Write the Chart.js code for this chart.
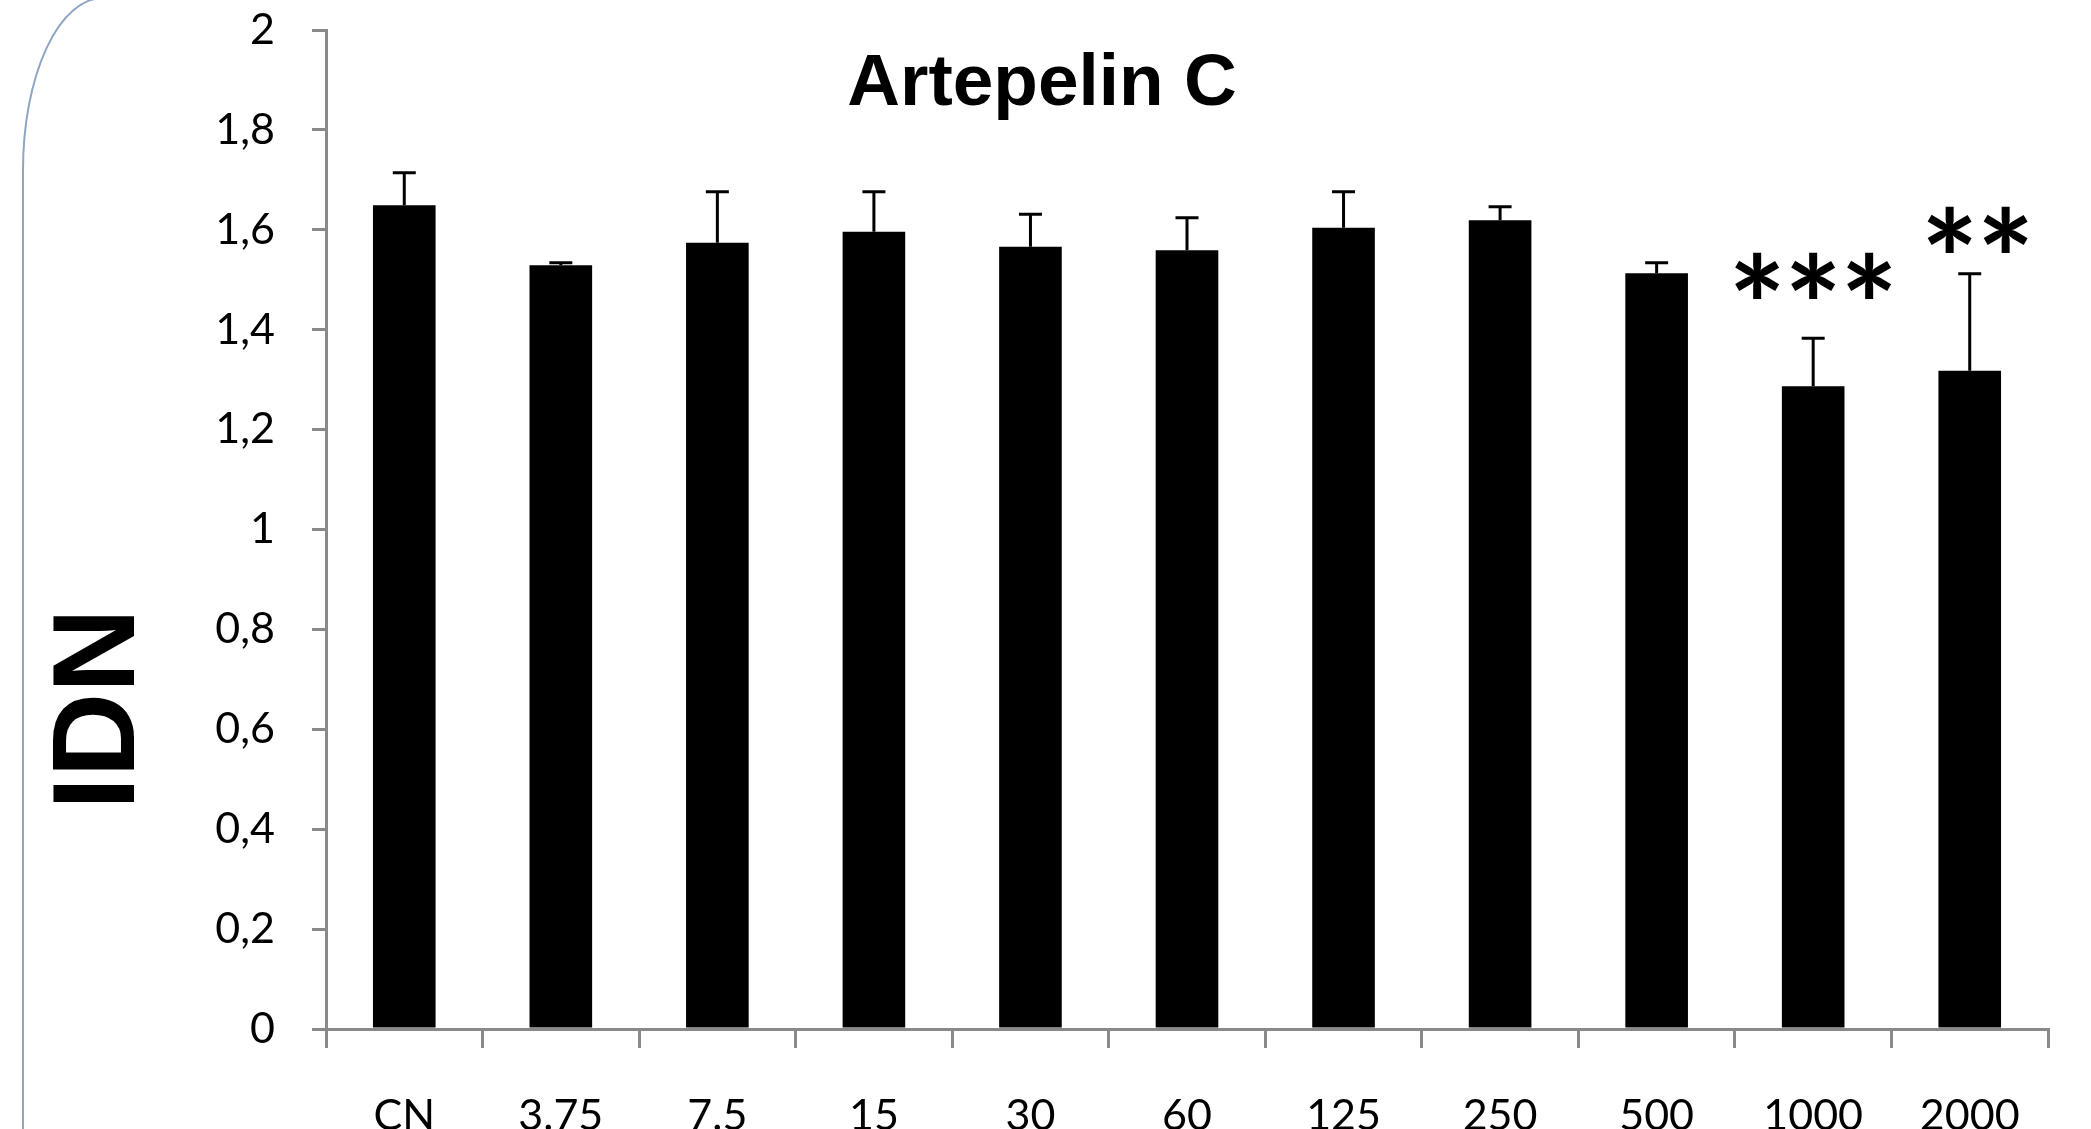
<!DOCTYPE html>
<html>
<head>
<meta charset="utf-8">
<script src="https://cdn.jsdelivr.net/npm/chart.js@4.4.0/dist/chart.umd.min.js"></script>
<style>
  html, body { margin: 0; padding: 0; background: #fff; overflow: hidden; }
  canvas { display: block; }
</style>
</head>
<body>
<canvas id="idnChart" width="2091" height="1129"></canvas>
<script>
// ── data ──
const categories   = ['CN', '3.75', '7.5', '15', '30', '60', '125', '250', '500', '1000', '2000'];
const idnMeans     = [1.649, 1.529, 1.574, 1.596, 1.566, 1.559, 1.604, 1.619, 1.513, 1.287, 1.318];
const idnErrors    = [0.065, 0.005, 0.102, 0.080, 0.065, 0.065, 0.072, 0.027, 0.021, 0.096, 0.194];
const significance = ['', '', '', '', '', '', '', '', '', '***', '**'];
const yTickLabels  = ['0', '0,2', '0,4', '0,6', '0,8', '1', '1,2', '1,4', '1,6', '1,8', '2'];

const AXIS_GREY = '#898989';
const TICK_FONT = { family: 'Lato, sans-serif', size: 43 };

// rounded frame edge at the left of the slide
const framePlugin = {
  id: 'frame',
  beforeDraw(chart) {
    const ctx = chart.ctx;
    ctx.save();
    ctx.strokeStyle = '#8ea5c4';
    ctx.lineWidth = 2;
    ctx.beginPath();
    ctx.moveTo(23, chart.height + 5);
    ctx.lineTo(23, 170);
    ctx.ellipse(103, 170, 80, 172, 0, Math.PI, 1.5 * Math.PI);
    ctx.stroke();
    ctx.restore();
  }
};

// error bars (upper only) + significance stars + title + y title
const extrasPlugin = {
  id: 'extras',
  afterDatasetsDraw(chart) {
    const ctx = chart.ctx;
    const y = chart.scales.y;
    const meta = chart.getDatasetMeta(0);
    ctx.save();
    ctx.strokeStyle = '#000';
    ctx.lineWidth = 3;
    meta.data.forEach((bar, i) => {
      const top = y.getPixelForValue(idnMeans[i] + idnErrors[i]);
      ctx.beginPath();
      ctx.moveTo(bar.x, bar.y);
      ctx.lineTo(bar.x, top);
      ctx.moveTo(bar.x - 11.5, top);
      ctx.lineTo(bar.x + 11.5, top);
      ctx.stroke();

      const stars = significance[i];
      if (stars) {
        const lift = stars.length === 3 ? 58 : 40;
        const shift = stars.length === 3 ? 0 : 8;
        ctx.fillStyle = '#000';
        ctx.font = 'bold 136px Lato, sans-serif';
        ctx.textAlign = 'center';
        ctx.textBaseline = 'middle';
        const step = 56;
        const x0 = bar.x + shift - (stars.length - 1) * step / 2;
        for (let k = 0; k < stars.length; k++) {
          ctx.fillText('*', x0 + k * step, top - lift + 32);
        }
      }
    });

    // chart title
    ctx.fillStyle = '#000';
    ctx.font = 'bold 73px "Liberation Sans", Arial, sans-serif';
    ctx.textAlign = 'center';
    ctx.textBaseline = 'alphabetic';
    ctx.fillText('Artepelin C', 1042, 105);

    // y axis title
    ctx.translate(134, 709);
    ctx.rotate(-Math.PI / 2);
    ctx.font = 'bold 117px "Liberation Sans", Arial, sans-serif';
    ctx.fillText('IDN', 0, 0);
    ctx.restore();
  }
};

new Chart(document.getElementById('idnChart'), {
  type: 'bar',
  data: {
    labels: categories,
    datasets: [{
      label: 'IDN',
      data: idnMeans,
      backgroundColor: '#000',
      borderWidth: 0,
      categoryPercentage: 1,
      barPercentage: 0.4
    }]
  },
  options: {
    responsive: false,
    animation: false,
    devicePixelRatio: 1,
    layout: { padding: { top: 30, right: 43, bottom: 0, left: 0 } },
    plugins: {
      legend: { display: false },
      tooltip: { enabled: false },
      title: { display: false }
    },
    scales: {
      x: {
        offset: true,
        grid: { display: true, offset: true, drawOnChartArea: false, drawTicks: true, tickLength: 19, color: AXIS_GREY, lineWidth: 3 },
        border: { display: true, color: AXIS_GREY, width: 3 },
        ticks: { color: '#000', font: TICK_FONT, padding: 42, maxRotation: 0, autoSkip: false },
        afterFit: s => { s.height = 100; }
      },
      y: {
        min: 0,
        max: 2,
        ticks: {
          stepSize: 0.2,
          color: '#000',
          font: TICK_FONT,
          padding: 37,
          callback: (v, i) => yTickLabels[i]
        },
        grid: { display: true, drawOnChartArea: false, drawTicks: true, tickLength: 14, color: AXIS_GREY, lineWidth: 3 },
        border: { display: true, color: AXIS_GREY, width: 3 },
        afterFit: s => { s.width = 326; s.paddingTop = 0; s.paddingBottom = 0; }
      }
    }
  },
  plugins: [framePlugin, extrasPlugin]
});
</script>
</body>
</html>
